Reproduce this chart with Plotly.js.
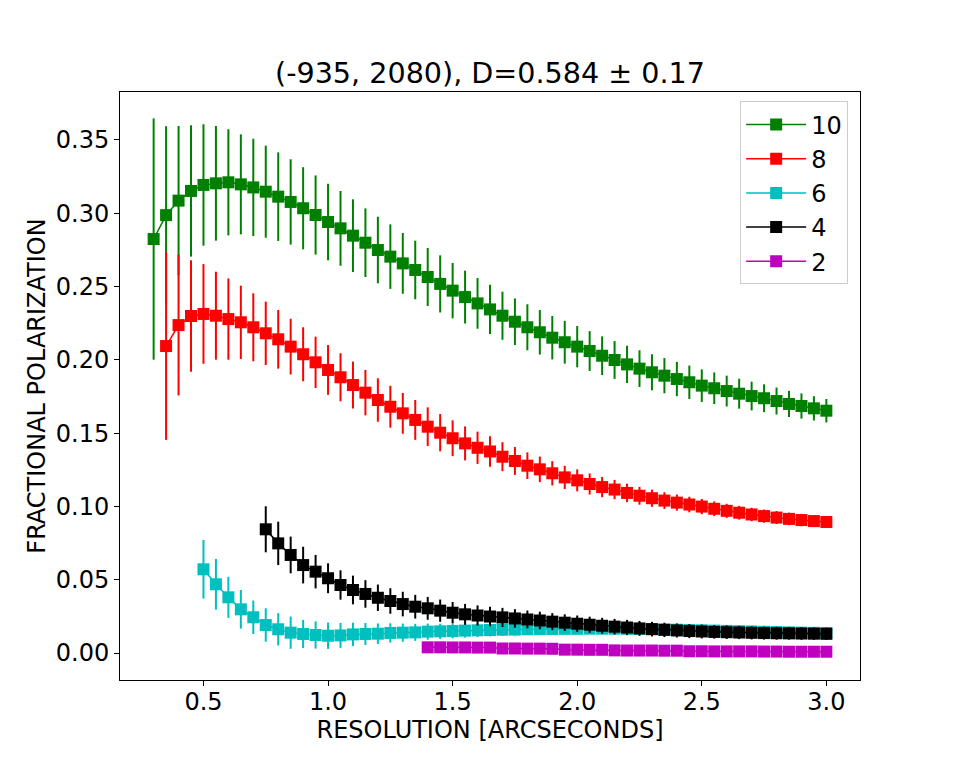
<!DOCTYPE html>
<html>
<head>
<meta charset="utf-8">
<script src="https://cdn.plot.ly/plotly-3.0.1.min.js"></script>
<style>
  html, body { margin: 0; padding: 0; background: #ffffff; }
  #chart { width: 955px; height: 764px; }
</style>
</head>
<body>
<div id="chart"></div>
<script>
// resolution grid in arcseconds (shared by all series, each series starts later)
var resolution = [
    0.30, 0.35, 0.40, 0.45, 0.50, 0.55, 0.60, 0.65, 0.70, 0.75,
    0.80, 0.85, 0.90, 0.95, 1.00, 1.05, 1.10, 1.15, 1.20, 1.25,
    1.30, 1.35, 1.40, 1.45, 1.50, 1.55, 1.60, 1.65, 1.70, 1.75,
    1.80, 1.85, 1.90, 1.95, 2.00, 2.05, 2.10, 2.15, 2.20, 2.25,
    2.30, 2.35, 2.40, 2.45, 2.50, 2.55, 2.60, 2.65, 2.70, 2.75,
    2.80, 2.85, 2.90, 2.95, 3.00
];

var seriesNames = ['10', '8', '6', '4', '2'];
var seriesColors = ['#008000', '#ff0000', '#00bfbf', '#000000', '#bf00bf'];

// fractional polarization
var pol10 = [
    0.2824, 0.2987, 0.3086, 0.3152, 0.3193, 0.3204, 0.3211, 0.3197, 0.3176, 0.3147,
    0.3113, 0.3077, 0.3034, 0.2988, 0.2940, 0.2897, 0.2847, 0.2799, 0.2749, 0.2704,
    0.2658, 0.2613, 0.2565, 0.2518, 0.2472, 0.2428, 0.2385, 0.2344, 0.2301, 0.2260,
    0.2222, 0.2188, 0.2151, 0.2120, 0.2090, 0.2060, 0.2028, 0.1999, 0.1969, 0.1940,
    0.1915, 0.1892, 0.1869, 0.1847, 0.1824, 0.1806, 0.1787, 0.1769, 0.1753, 0.1738,
    0.1719, 0.1699, 0.1685, 0.1669, 0.1653
];
var err10 = [
    0.0823, 0.0607, 0.0509, 0.0448, 0.0414, 0.0391, 0.0362, 0.0341, 0.0332, 0.0314,
    0.0302, 0.0291, 0.0280, 0.0270, 0.0261, 0.0255, 0.0248, 0.0234, 0.0227, 0.0220,
    0.0207, 0.0200, 0.0198, 0.0195, 0.0189, 0.0180, 0.0173, 0.0168, 0.0164, 0.0159,
    0.0157, 0.0152, 0.0148, 0.0146, 0.0141, 0.0136, 0.0132, 0.0129, 0.0127, 0.0125,
    0.0123, 0.0120, 0.0117, 0.0114, 0.0111, 0.0108, 0.0105, 0.0102, 0.0098, 0.0095,
    0.0092, 0.0089, 0.0086, 0.0083, 0.0080
];

var pol8 = [
    0.2094, 0.2237, 0.2299, 0.2313, 0.2301, 0.2278, 0.2256, 0.2222, 0.2181, 0.2140,
    0.2090, 0.2038, 0.1983, 0.1931, 0.1881, 0.1828, 0.1776, 0.1726, 0.1680, 0.1635,
    0.1590, 0.1544, 0.1503, 0.1465, 0.1430, 0.1400, 0.1375, 0.1339, 0.1310, 0.1278,
    0.1253, 0.1226, 0.1198, 0.1178, 0.1153, 0.1132, 0.1115, 0.1092, 0.1073, 0.1056,
    0.1040, 0.1026, 0.1013, 0.0999, 0.0984, 0.0970, 0.0957, 0.0945, 0.0934, 0.0924,
    0.0915, 0.0907, 0.0900, 0.0894
];
var err8 = [
    0.0640, 0.0480, 0.0380, 0.0340, 0.0300, 0.0277, 0.0250, 0.0232, 0.0216, 0.0200,
    0.0190, 0.0184, 0.0175, 0.0170, 0.0164, 0.0160, 0.0155, 0.0148, 0.0143, 0.0139,
    0.0136, 0.0132, 0.0127, 0.0122, 0.0116, 0.0110, 0.0104, 0.0099, 0.0095, 0.0091,
    0.0087, 0.0083, 0.0079, 0.0075, 0.0072, 0.0069, 0.0066, 0.0063, 0.0061, 0.0059,
    0.0057, 0.0055, 0.0053, 0.0052, 0.0050, 0.0048, 0.0047, 0.0046, 0.0045, 0.0044,
    0.0043, 0.0042, 0.0041, 0.0040
];

var pol6 = [
    0.0571, 0.0469, 0.0380, 0.0298, 0.0244, 0.0191, 0.0162, 0.0139, 0.0130, 0.0123,
    0.0118, 0.0120, 0.0127, 0.0130, 0.0132, 0.0137, 0.0139, 0.0141, 0.0146, 0.0148,
    0.0150, 0.0153, 0.0155, 0.0157, 0.0159, 0.0160, 0.0162, 0.0163, 0.0164, 0.0165,
    0.0165, 0.0166, 0.0166, 0.0166, 0.0165, 0.0164, 0.0163, 0.0161, 0.0159, 0.0157,
    0.0155, 0.0153, 0.0151, 0.0149, 0.0147, 0.0145, 0.0143, 0.0141, 0.0139, 0.0138,
    0.0137
];
var err6 = [
    0.0200, 0.0173, 0.0140, 0.0132, 0.0114, 0.0114, 0.0110, 0.0110, 0.0096, 0.0093,
    0.0090, 0.0085, 0.0080, 0.0075, 0.0070, 0.0066, 0.0062, 0.0058, 0.0055, 0.0052,
    0.0050, 0.0048, 0.0046, 0.0044, 0.0042, 0.0040, 0.0039, 0.0038, 0.0037, 0.0036,
    0.0035, 0.0034, 0.0033, 0.0032, 0.0031, 0.0030, 0.0029, 0.0028, 0.0028, 0.0027,
    0.0026, 0.0026, 0.0025, 0.0025, 0.0024, 0.0024, 0.0023, 0.0023, 0.0022, 0.0022,
    0.0021
];

var pol4 = [
    0.0844, 0.0748, 0.0669, 0.0600, 0.0555, 0.0510, 0.0464, 0.0430, 0.0403, 0.0377,
    0.0355, 0.0334, 0.0316, 0.0305, 0.0289, 0.0275, 0.0264, 0.0256, 0.0249, 0.0243,
    0.0236, 0.0229, 0.0222, 0.0214, 0.0207, 0.0200, 0.0193, 0.0186, 0.0180, 0.0174,
    0.0168, 0.0163, 0.0158, 0.0154, 0.0150, 0.0147, 0.0144, 0.0142, 0.0140, 0.0138,
    0.0136, 0.0135, 0.0134, 0.0133, 0.0132, 0.0131
];
var err4 = [
    0.0157, 0.0148, 0.0125, 0.0125, 0.0114, 0.0102, 0.0100, 0.0098, 0.0094, 0.0090,
    0.0087, 0.0084, 0.0081, 0.0078, 0.0076, 0.0073, 0.0071, 0.0069, 0.0067, 0.0065,
    0.0063, 0.0061, 0.0060, 0.0058, 0.0057, 0.0056, 0.0055, 0.0054, 0.0053, 0.0052,
    0.0051, 0.0050, 0.0049, 0.0048, 0.0048, 0.0047, 0.0046, 0.0046, 0.0045, 0.0045,
    0.0044, 0.0044, 0.0043, 0.0043, 0.0042, 0.0042
];

var pol2 = [
    0.0039, 0.0039, 0.0038, 0.0038, 0.0037, 0.0037, 0.0031, 0.0031, 0.0030, 0.0030,
    0.0029, 0.0023, 0.0023, 0.0022, 0.0022, 0.0018, 0.0017, 0.0017, 0.0017, 0.0016,
    0.0016, 0.0012, 0.0012, 0.0011, 0.0011, 0.0011, 0.0011, 0.0010, 0.0010, 0.0009,
    0.0009, 0.0009, 0.0009
];
var err2 = [
    0.0010, 0.0010, 0.0010, 0.0010, 0.0010, 0.0010, 0.0010, 0.0010, 0.0010, 0.0010,
    0.0010, 0.0010, 0.0010, 0.0010, 0.0010, 0.0010, 0.0010, 0.0010, 0.0010, 0.0010,
    0.0010, 0.0010, 0.0010, 0.0010, 0.0010, 0.0010, 0.0010, 0.0010, 0.0010, 0.0010,
    0.0010, 0.0010, 0.0010
];

var xTicks = [0.5, 1.0, 1.5, 2.0, 2.5, 3.0];
var yTicks = [0.00, 0.05, 0.10, 0.15, 0.20, 0.25, 0.30, 0.35];

var allPol = [pol10, pol8, pol6, pol4, pol2];
var allErr = [err10, err8, err6, err4, err2];

var plotlyData = [];
for (var i = 0; i < allPol.length; i++)
{
    // each series runs up to 3.0, so take the tail of the shared grid
    var xs = resolution.slice(resolution.length - allPol[i].length);
    plotlyData.push({
        x: xs,
        y: allPol[i],
        type: 'scatter',
        mode: 'lines+markers',
        name: seriesNames[i],
        legendgroup: 'g' + i,  // one group per trace so tracegroupgap spaces the entries
        line: { color: seriesColors[i], width: 1.5 },
        marker: { symbol: 'square', size: 12, color: seriesColors[i], line: { width: 0 } },
        error_y: {
            type: 'data',
            array: allErr[i],
            visible: true,
            color: seriesColors[i],
            thickness: 2,
            width: 0
        }
    });
}

var axisFont = { family: 'DejaVu Sans', size: 24, color: '#000000' };

var plotlyLayout = {
    width: 955,
    height: 764,
    paper_bgcolor: '#ffffff',
    plot_bgcolor: '#ffffff',
    margin: { l: 120, r: 95, t: 92, b: 84 },
    font: { family: 'DejaVu Sans', color: '#000000' },
    title: {
        text: '(-935, 2080), D=0.584 \u00b1 0.17',
        font: { family: 'DejaVu Sans', size: 28.6, color: '#000000' },
        x: 0.5,
        xref: 'paper',
        y: 0.905,
        yref: 'container',
        yanchor: 'middle'
    },
    xaxis: {
        title: { text: 'RESOLUTION [ARCSECONDS]', font: axisFont, standoff: 1 },
        range: [0.165, 3.135],
        tickvals: xTicks,
        tickformat: '.1f',
        tickfont: axisFont,
        ticklabelstandoff: -5,
        ticks: 'outside',
        ticklen: 5,
        tickwidth: 1,
        tickcolor: '#000000',
        showline: true,
        linecolor: '#000000',
        linewidth: 1,
        mirror: true,
        showgrid: false,
        zeroline: false,
        automargin: false
    },
    yaxis: {
        title: { text: 'FRACTIONAL POLARIZATION', font: axisFont, standoff: 3 },
        range: [-0.0184, 0.3827],
        tickvals: yTicks,
        tickformat: '.2f',
        tickfont: axisFont,
        ticks: 'outside',
        ticklen: 5,
        tickwidth: 1,
        tickcolor: '#000000',
        showline: true,
        linecolor: '#000000',
        linewidth: 1,
        mirror: true,
        showgrid: false,
        zeroline: false,
        automargin: false
    },
    legend: {
        x: 0.984,
        y: 0.984,
        xanchor: 'right',
        yanchor: 'top',
        bgcolor: '#ffffff',
        bordercolor: '#cccccc',
        borderwidth: 1,
        itemwidth: 60,
        tracegroupgap: 3,
        traceorder: 'normal',
        font: { family: 'DejaVu Sans', size: 24, color: '#000000' }
    },
    showlegend: true
};

var plotlyConfig = {
    displayModeBar: false,
    responsive: false,
    staticPlot: true
};

Plotly.newPlot('chart', plotlyData, plotlyLayout, plotlyConfig);
</script>
</body>
</html>
